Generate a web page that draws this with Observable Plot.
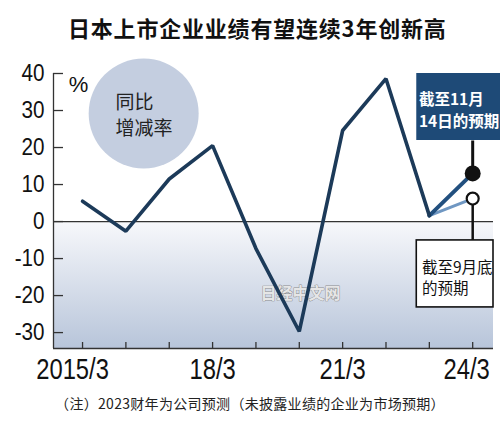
<!DOCTYPE html>
<html>
<head>
<meta charset="utf-8">
<script src="https://cdn.jsdelivr.net/npm/d3@7"></script>
<script src="https://cdn.jsdelivr.net/npm/@observablehq/plot@0.6"></script>
<style>
  html, body { margin: 0; padding: 0; background: #fff; overflow: hidden; }
  #wrap { width: 500px; height: 423px; position: relative; overflow: hidden; }
  #title { position: absolute; left: 68px; top: 0; height: 45px; line-height: 54px; white-space: nowrap;
           font-family: "Noto Sans CJK SC", sans-serif; font-weight: bold; font-size: 22px; letter-spacing: 0.8px; color: #111; }
  #chart { position: absolute; left: 0; top: 45px; width: 500px; height: 345px; }
  #note { position: absolute; left: 0; top: 390px; width: 500px; height: 33px; line-height: 26px; text-align: center;
          font-family: "Noto Sans CJK SC", sans-serif; font-size: 14px; letter-spacing: 0.3px; color: #222; }
  svg { display: block; }
</style>
</head>
<body>
<div id="wrap">
  <div id="title">日本上市企业业绩有望连续3年创新高</div>
  <div id="chart"></div>
  <div id="note">（注）2023财年为公司预测（未披露业绩的企业为市场预期）</div>
</div>
<script>
// ---- data ----
const years = [2015, 2016, 2017, 2018, 2019, 2020, 2021, 2022, 2023];
const growth = [5.5, -2.6, 11.5, 20.5, -7.3, -29.7, 24.6, 38.6, 1.6];
const forecastYears = [2023, 2024];
const forecastNov = [1.6, 13.0];   // 截至11月14日的预期
const forecastSep = [1.6, 6.2];    // 截至9月底的预期
const yTicks = [40, 30, 20, 10, 0, -10, -20, -30];
const xTickYears = [2015, 2016, 2017, 2018, 2019, 2020, 2021, 2022, 2023, 2024];
const xLabelYears = [2015, 2018, 2021, 2024];
const xLabels = ["2015/3", "18/3", "21/3", "24/3"];

const xMin = 2014.33, xMax = 2024.48, yMin = -34.3, yMax = 40;
const pxPerYear = 43.3, pxPerUnit = 3.7;

const main = years.map((y, i) => ({year: y, v: growth[i]}));
const fNov = forecastYears.map((y, i) => ({year: y, v: forecastNov[i]}));
const fSep = forecastYears.map((y, i) => ({year: y, v: forecastSep[i]}));

// annotation geometry (data units)
const box1 = {x1: 2022.71, x2: 2024.7, y1: 40, y2: 21.9};
const box2 = {x1: 2022.71, x2: 2024.48, y1: -5.1, y2: -23.2};

const numFont = '"Liberation Sans", Arial, sans-serif';
const cjk = '"Noto Sans CJK SC", sans-serif';

const chart = Plot.plot({
  width: 500,
  height: 345,
  marginTop: 28,
  marginBottom: 42,
  marginLeft: 53,
  marginRight: 7,
  x: {domain: [xMin, xMax], axis: null},
  y: {domain: [yMin, yMax], axis: null},
  marks: [
    // shaded negative region
    Plot.rect([{x1: xMin, x2: xMax, y1: yMin, y2: 0}], {x1: "x1", x2: "x2", y1: "y1", y2: "y2", fill: "url(#negGrad)"}),
    // zero line
    Plot.ruleY([0], {x1: xMin, x2: xMax, stroke: "#333", strokeWidth: 1.3}),
    // axes lines
    Plot.ruleX([xMin], {y1: yMin, y2: yMax, stroke: "#333", strokeWidth: 1.3}),
    Plot.ruleY([yMin], {x1: xMin, x2: xMax, stroke: "#333", strokeWidth: 1.3}),
    // y ticks (inward)
    Plot.ruleY(yTicks, {x1: xMin, x2: xMin + 10 / pxPerYear, stroke: "#333", strokeWidth: 1.3}),
    // x ticks (inward)
    Plot.ruleX(xTickYears, {y1: yMin, y2: yMin + 6 / pxPerUnit, stroke: "#333", strokeWidth: 1.3}),
    // y tick labels
    Plot.text(yTicks, {x: xMin, y: d => d, text: d => String(d), dx: -9, textAnchor: "end",
      fontSize: 24, fontFamily: numFont, fill: "#111"}),
    Plot.text(["%"], {frameAnchor: "top-left", dx: 25, dy: 3, textAnchor: "middle", fontSize: 22,
      fontFamily: numFont, fill: "#111"}),
    // x labels
    Plot.text(xLabelYears, {x: d => d, y: yMin, text: (d, i) => xLabels[i], dy: 21,
      fontSize: 29, fontFamily: numFont, fill: "#111",
      filter: (d, i) => i > 0 && i < xLabels.length - 1}),
    Plot.text([xLabelYears[0]], {x: d => d, y: yMin, text: () => xLabels[0], dy: 21, dx: -10,
      fontSize: 29, fontFamily: numFont, fill: "#111"}),
    Plot.text([xLabelYears[xLabelYears.length - 1]], {x: d => d, y: yMin, text: () => xLabels[xLabels.length - 1],
      dy: 21, dx: -6, fontSize: 29, fontFamily: numFont, fill: "#111"}),
    // bubble label
    Plot.dot([{x: 2016.41, y: 29.2}], {x: "x", y: "y", r: 55, fill: "#c4cee0", stroke: "none"}),
    Plot.text([{x: 2015.76, y: 29.2}], {x: "x", y: "y", text: () => "同比\n增减率", textAnchor: "start",
      lineHeight: 1.37, fontSize: 19, fontFamily: cjk, fill: "#222"}),
    // watermark
    Plot.text([{x: 2020.03, y: -19.5}], {x: "x", y: "y", text: () => "日经中文网", fontSize: 16,
      fontWeight: "bold", fontFamily: cjk, fill: "#e6e6e6", stroke: "#8c8c8c", strokeWidth: 0.9}),
    // lines
    Plot.line(fSep, {x: "year", y: "v", stroke: "#6f97c2", strokeWidth: 3}),
    Plot.line(fNov, {x: "year", y: "v", stroke: "#22507f", strokeWidth: 4}),
    Plot.line(main, {x: "year", y: "v", stroke: "#1c3a59", strokeWidth: 3.6, strokeLinejoin: "miter"}),
    // callout connectors
    Plot.link([{x1: 2024, y1: box1.y2, x2: 2024, y2: forecastNov[1]}], {x1: "x1", y1: "y1", x2: "x2", y2: "y2",
      stroke: "#111", strokeWidth: 3}),
    Plot.link([{x1: 2024, y1: forecastSep[1], x2: 2024, y2: box2.y1}], {x1: "x1", y1: "y1", x2: "x2", y2: "y2",
      stroke: "#111", strokeWidth: 2.5}),
    // forecast points
    Plot.dot([fNov[1]], {x: "year", y: "v", r: 8, fill: "#111", stroke: "none"}),
    Plot.dot([fSep[1]], {x: "year", y: "v", r: 6, fill: "#fff", stroke: "#111", strokeWidth: 2.2}),
    // boxes
    Plot.rect([box1], {x1: "x1", x2: "x2", y1: "y1", y2: "y2", fill: "#1e4a77"}),
    Plot.text([{x: 2022.76, y: 30.4}], {x: "x", y: "y", text: () => "截至11月\n14日的预期", textAnchor: "start",
      lineHeight: 1.45, fontSize: 15.5, fontWeight: "bold", fontFamily: cjk, fill: "#fff"}),
    Plot.rect([box2], {x1: "x1", x2: "x2", y1: "y1", y2: "y2", fill: "#fff", stroke: "#111", strokeWidth: 1.6}),
    Plot.text([{x: 2022.83, y: -15.0}], {x: "x", y: "y", text: () => "截至9月底\n的预期", textAnchor: "start",
      lineHeight: 1.35, fontSize: 15.5, fontFamily: cjk, fill: "#111"})
  ]
});

// gradient definition
const ns = "http://www.w3.org/2000/svg";
const defs = document.createElementNS(ns, "defs");
const grad = document.createElementNS(ns, "linearGradient");
grad.setAttribute("id", "negGrad");
grad.setAttribute("x1", "0"); grad.setAttribute("y1", "0");
grad.setAttribute("x2", "0"); grad.setAttribute("y2", "1");
[["0%", "#f7f8fb"], ["100%", "#b8c5da"]].forEach(([o, c]) => {
  const s = document.createElementNS(ns, "stop");
  s.setAttribute("offset", o); s.setAttribute("stop-color", c);
  grad.appendChild(s);
});
defs.appendChild(grad);
chart.insertBefore(defs, chart.firstChild);
chart.style.overflow = "visible";

document.getElementById("chart").appendChild(chart);

// condense numeric labels (narrow typeface look)
const yLabelSet = new Set(yTicks.map(String));
const xLabelSet = new Set(xLabels);
chart.querySelectorAll("text").forEach(t => {
  const s = t.textContent;
  const k = yLabelSet.has(s) ? 0.86 : xLabelSet.has(s) ? 0.82 : null;
  if (k == null) return;
  const L = t.getComputedTextLength();
  t.setAttribute("textLength", (L * k).toFixed(1));
  t.setAttribute("lengthAdjust", "spacingAndGlyphs");
});
</script>
</body>
</html>
